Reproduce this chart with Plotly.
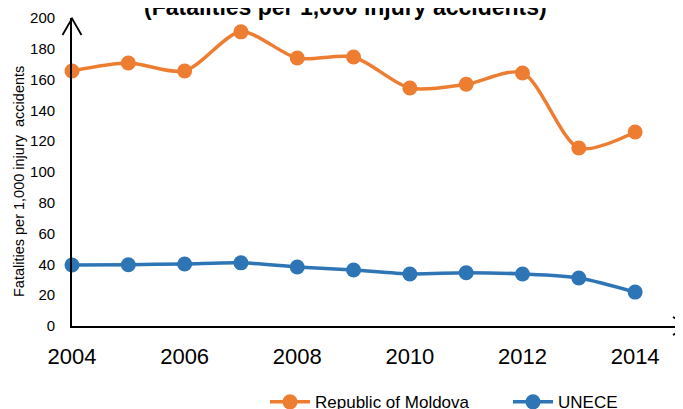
import plotly.graph_objects as go

years = [2004, 2005, 2006, 2007, 2008, 2009, 2010, 2011, 2012, 2013, 2014]
moldova = [165.6, 170.8, 165.6, 191.0, 174.0, 174.7, 154.5, 157.0, 164.3, 115.6, 126.0]
unece = [39.6, 39.8, 40.3, 41.0, 38.3, 36.4, 33.8, 34.6, 33.8, 31.2, 22.0]
x_ticks = [2004, 2006, 2008, 2010, 2012, 2014]
y_ticks = [0, 20, 40, 60, 80, 100, 120, 140, 160, 180, 200]

FONT = "Liberation Sans, Arial, sans-serif"
ORANGE = "#ED7D31"
BLUE = "#2E75B6"

fig = go.Figure()
fig.add_trace(go.Scatter(
    x=years, y=moldova, name="Republic of Moldova", mode="lines+markers",
    line=dict(color=ORANGE, width=3.5, shape="spline", smoothing=0.8),
    marker=dict(color=ORANGE, size=15), cliponaxis=False))
fig.add_trace(go.Scatter(
    x=years, y=unece, name="UNECE", mode="lines+markers",
    line=dict(color=BLUE, width=3.5, shape="spline", smoothing=0.8),
    marker=dict(color=BLUE, size=15), cliponaxis=False))

fig.update_layout(
    width=683, height=409,
    margin=dict(l=64, r=8, t=10, b=91, autoexpand=False),
    plot_bgcolor="white", paper_bgcolor="white",
    font=dict(family=FONT, color="black"),
    showlegend=True,
    legend=dict(orientation="h", x=(265 - 72) / 611, xanchor="left",
                yref="container", y=0.036, yanchor="middle",
                font=dict(size=17, family=FONT, color="black"), itemwidth=40,
                entrywidth=188, entrywidthmode="pixels",
                tracegroupgap=0),
    xaxis=dict(range=[2004, 2014.85], tickvals=x_ticks, ticktext=[str(t) for t in x_ticks],
               showgrid=False, zeroline=False, showline=True, linecolor="black", linewidth=1.8,
               ticks="", tickfont=dict(size=22, family=FONT, color="black"),
               ticklabelstandoff=10, automargin=False),
    yaxis=dict(range=[0, 200], tickvals=y_ticks, showgrid=False, zeroline=False,
               showline=True, linecolor="black", linewidth=1.8, ticks="",
               tickfont=dict(size=15, family=FONT, color="black"), ticklabelstandoff=12,
               automargin=False),
)

# y-axis title
fig.add_annotation(text="Fatalities per 1,000 injury  accidents", textangle=-90,
                   xref="paper", yref="paper", x=0, y=0.4675, xshift=-53,
                   showarrow=False, font=dict(size=14.5, family=FONT, color="black"),
                   xanchor="center", yanchor="middle")
# title (partially clipped at the top)
fig.add_annotation(text="<b>(Fatalities per 1,000 injury accidents)</b>",
                   xref="paper", yref="paper", x=(345 - 72) / 611, y=1, yshift=11,
                   showarrow=False, font=dict(size=23, family=FONT, color="black"),
                   xanchor="center", yanchor="middle")

# axis arrow heads (open chevrons)
fig.add_shape(type="path", xref="paper", yref="paper", xsizemode="pixel", ysizemode="pixel",
              xanchor=0, yanchor=1, path="M -9.5,-17 L 0,-0.5 L 9.5,-17",
              line=dict(color="black", width=1.8))
fig.add_shape(type="path", xref="paper", yref="paper", xsizemode="pixel", ysizemode="pixel",
              xanchor=1, yanchor=0, path="M -10,9 L 6,0 L -10,-9",
              line=dict(color="black", width=1.8))

fig.write_html("out.html")
